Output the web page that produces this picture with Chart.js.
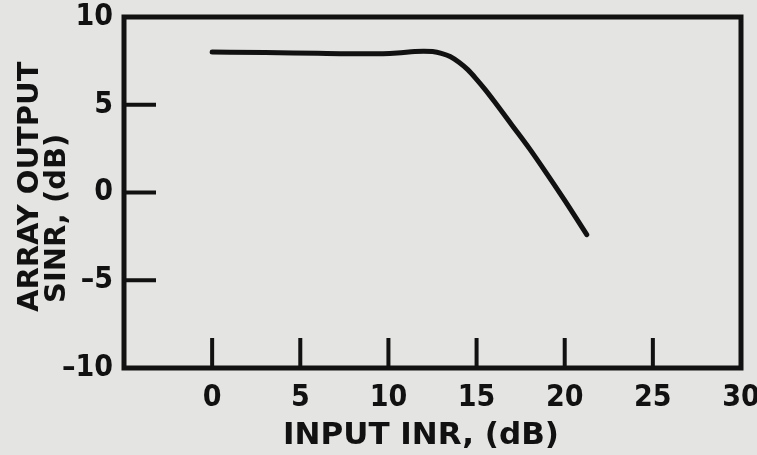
<!DOCTYPE html>
<html><head><meta charset="utf-8">
<style>html,body{margin:0;padding:0;background:#e4e4e2;}#wrap{width:757px;height:455px;}</style>
<script src="https://cdn.jsdelivr.net/npm/chart.js@4.4.1/dist/chart.umd.min.js"></script>
</head><body><div id="wrap"><canvas id="c" width="757" height="455"></canvas></div>
<script>
// ---- data ----
const inputINR   = [0, 3, 6, 9, 10.5, 11.5, 12, 12.5, 13, 13.5, 14, 14.5, 15, 15.5, 16, 17, 18, 19, 20, 21.25];
const outputSINR = [8.0, 7.98, 7.93, 7.9, 7.95, 8.03, 8.05, 8.03, 7.93, 7.75, 7.42, 7.0, 6.45, 5.85, 5.2, 3.85, 2.5, 1.05, -0.45, -2.4];
const xTickValues = [0, 5, 10, 15, 20, 25, 30];
const xTickLabels = ['0', '5', '10', '15', '20', '25', '30'];
const yTickValues = [-10, -5, 0, 5, 10];
const yTickLabels = ['\u201310', '\u20135', '0', '5', '10'];
const xTickMarks = [0, 5, 10, 15, 20, 25];
const yTickMarks = [-5, 0, 5];
const xTitle = 'INPUT INR, (dB)';
const yTitle = ['ARRAY OUTPUT', 'SINR, (dB)'];

const INK = '#111111';
const BG = '#e4e4e2';
const FONT = 'DejaVu Sans';

const framePlugin = {
  id: 'frame',
  beforeDraw(chart) {
    const ctx = chart.ctx;
    ctx.save();
    ctx.fillStyle = BG;
    ctx.fillRect(0, 0, chart.width, chart.height);
    ctx.restore();
  },
  afterDraw(chart) {
    const {ctx, chartArea: a, scales: {x, y}} = chart;
    ctx.save();
    ctx.strokeStyle = INK;
    ctx.lineCap = 'butt';
    ctx.lineWidth = 5;
    ctx.strokeRect(a.left, a.top, a.right - a.left, a.bottom - a.top);
    ctx.lineWidth = 4;
    ctx.beginPath();
    xTickMarks.forEach(v => {
      const px = x.getPixelForValue(v);
      ctx.moveTo(px, a.bottom);
      ctx.lineTo(px, a.bottom - 30);
    });
    yTickMarks.forEach(v => {
      const py = y.getPixelForValue(v);
      ctx.moveTo(a.left, py);
      ctx.lineTo(a.left + 32, py);
    });
    ctx.stroke();
    // axis titles
    ctx.fillStyle = INK;
    ctx.font = 'bold 31px "' + FONT + '"';
    ctx.textAlign = 'center';
    ctx.textBaseline = 'middle';
    ctx.fillText(xTitle, 421, 436);
    ctx.font = 'bold 29px "' + FONT + '"';
    ctx.textAlign = 'left';
    [[30, 312], [57, 303]].forEach(([cx, cy], i) => {
      ctx.save();
      ctx.translate(cx, cy);
      ctx.rotate(-Math.PI / 2);
      ctx.fillText(yTitle[i], 0, 0);
      ctx.restore();
    });
    ctx.restore();
  }
};

new Chart(document.getElementById('c'), {
  type: 'line',
  data: {
    datasets: [{
      data: inputINR.map((v, i) => ({x: v, y: outputSINR[i]})),
      borderColor: INK,
      borderWidth: 5,
      pointRadius: 0,
      cubicInterpolationMode: 'monotone',
      borderCapStyle: 'round',
      borderJoinStyle: 'round',
      fill: false
    }]
  },
  options: {
    responsive: false,
    animation: false,
    devicePixelRatio: 1,
    layout: {padding: {left: 0, right: 16, top: 17, bottom: 0}},
    plugins: {legend: {display: false}, tooltip: {enabled: false}},
    scales: {
      x: {
        type: 'linear', min: -5, max: 30,
        grid: {display: false},
        border: {display: false},
        afterBuildTicks: s => { s.ticks = xTickValues.map(v => ({value: v})); },
        afterFit: s => { s.height = 87; s.paddingLeft = 0; s.paddingRight = 0; },
        ticks: {
          autoSkip: false, maxRotation: 0, padding: 4,
          color: INK, font: {family: 'DejaVu Sans Condensed', weight: 'bold', size: 30},
          callback: (v) => xTickLabels[xTickValues.indexOf(v)]
        }
      },
      y: {
        type: 'linear', min: -10, max: 10,
        grid: {display: false},
        border: {display: false},
        afterBuildTicks: s => { s.ticks = yTickValues.map(v => ({value: v})); },
        afterFit: s => { s.width = 124; s.paddingTop = 0; s.paddingBottom = 0; },
        ticks: {
          autoSkip: false, padding: 3,
          color: INK, font: {family: 'DejaVu Sans Condensed', weight: 'bold', size: 30},
          callback: (v) => yTickLabels[yTickValues.indexOf(v)]
        }
      }
    }
  },
  plugins: [framePlugin]
});
</script></body></html>
